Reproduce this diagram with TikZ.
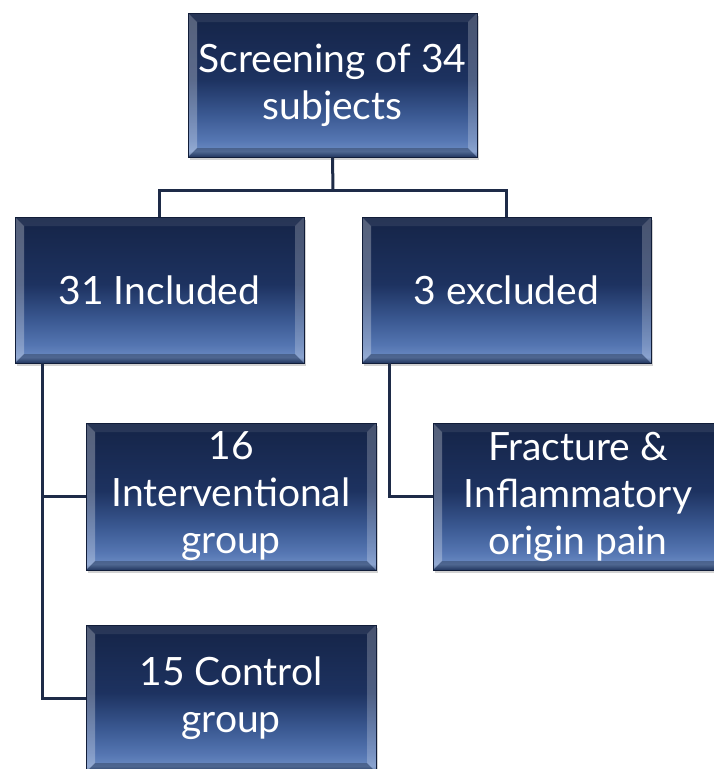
\documentclass[tikz,border=0pt]{standalone}
\usepackage{fontspec}
\setmainfont{Lato}
\usetikzlibrary{shadows}
\definecolor{linec}{HTML}{1E2B48}
\definecolor{cz}{HTML}{2E4A80}
\definecolor{ca}{HTML}{6A8AC2}
\definecolor{cb}{HTML}{5576B2}
\definecolor{cc}{HTML}{3A5891}
\definecolor{cd}{HTML}{1D3260}
\definecolor{ce}{HTML}{152447}
\pgfdeclareverticalshading{boxshade}{100bp}{color(0bp)=(cz); color(25bp)=(cz); color(27bp)=(ca); color(31bp)=(cb); color(40bp)=(cc); color(52bp)=(cd); color(75bp)=(ce); color(100bp)=(ce)}
\tikzset{
  box/.style={rectangle, shading=boxshade, draw=ce!80!black, line width=0.8pt,
    minimum width=289pt, minimum height=146pt, inner sep=0pt, align=center,
    text=white, font=\fontsize{39}{47}\selectfont,
    drop shadow={shadow xshift=2pt, shadow yshift=-3pt, opacity=0.35},
    path picture={
      \fill[white,opacity=0.28] (path picture bounding box.south west) -- ++(9pt,9pt)
        -- ([xshift=9pt,yshift=-9pt]path picture bounding box.north west)
        -- (path picture bounding box.north west) -- cycle;
      \fill[white,opacity=0.22] (path picture bounding box.south east) -- ++(-9pt,9pt)
        -- ([xshift=-9pt,yshift=-9pt]path picture bounding box.north east)
        -- (path picture bounding box.north east) -- cycle;
      \fill[black,opacity=0.25] (path picture bounding box.south west) -- ++(9pt,9pt)
        -- ([xshift=-9pt,yshift=9pt]path picture bounding box.south east)
        -- (path picture bounding box.south east) -- cycle;
      \fill[white,opacity=0.08] (path picture bounding box.north west) -- ++(9pt,-9pt)
        -- ([xshift=-9pt,yshift=-9pt]path picture bounding box.north east)
        -- (path picture bounding box.north east) -- cycle;
    }},
  conn/.style={draw=linec, line width=3pt}
}
\begin{document}
\begin{tikzpicture}[x=1pt,y=-1pt]
\useasboundingbox[fill=white] (0,0) rectangle (714,769);
\node[box, minimum height=144pt] (top) at (332.5,85) {Screening of 34\\subjects};
\node[box] (inc) at (159.5,290) {31 Included};
\node[box] (exc) at (506.5,290) {3 excluded};
\node[box, minimum width=290pt, minimum height=147pt] (int) at (231,496.5) {16\\Interventional\\group};
\node[box, minimum width=290pt, minimum height=147pt] (fra) at (578,496.5) {Fracture \&\\Inflammatory\\origin pain};
\node[box, minimum width=290pt, minimum height=147pt] (ctl) at (231,698.5) {15 Control\\group};
\coordinate (j) at (333,190);
\coordinate (l1) at ([xshift=28pt]inc.south west);
\coordinate (r1) at ([xshift=28pt]exc.south west);
\draw[conn] (top.south) -- (j);
\draw[conn] (inc.north) |- (j) -| (exc.north);
\draw[conn] (l1) |- (int.west);
\draw[conn] (l1) |- (ctl.west);
\draw[conn] (r1) |- (fra.west);
\end{tikzpicture}
\end{document}
